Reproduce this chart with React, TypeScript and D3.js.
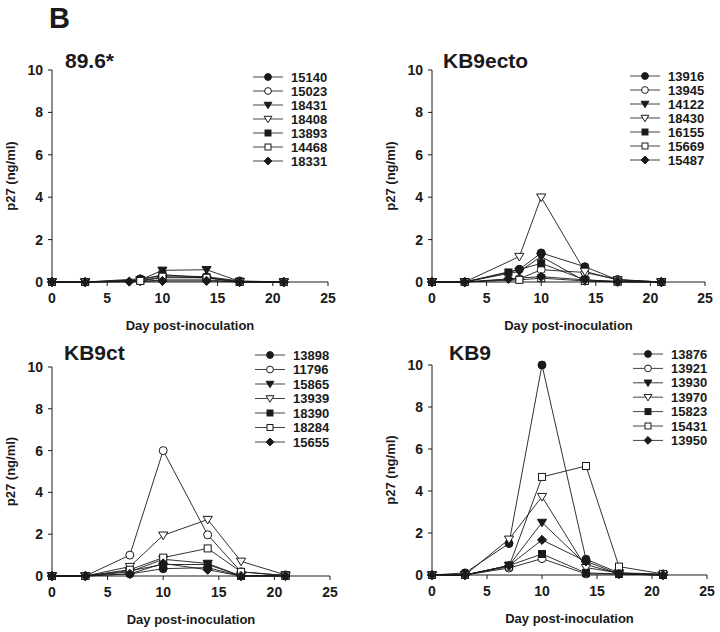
import React from 'react';
import * as d3 from 'd3';

// marker order shared by all panels
const markers = ['circleF', 'circleO', 'triF', 'triO', 'squareF', 'squareO', 'diamondF'];
const xTicks = [0, 5, 10, 15, 20, 25];
const yTicks = [0, 2, 4, 6, 8, 10];

// 89.6*
const p1Names = ['15140', '15023', '18431', '18408', '13893', '14468', '18331'];
const p1Days = [
  [0, 3, 8, 10, 14, 17, 21],
  [0, 3, 8, 10, 14, 17, 21],
  [0, 3, 8, 10, 14, 17, 21],
  [0, 3, 8, 10, 14, 17, 21],
  [0, 3, 8, 10, 14, 17, 21],
  [0, 3, 8, 10, 14, 17, 21],
  [0, 3, 7, 10, 14, 17, 21],
];
const p1Values = [
  [0, 0, 0.15, 0.3, 0.25, 0.05, 0],
  [0, 0, 0.05, 0.2, 0.2, 0.02, 0],
  [0, 0, 0.1, 0.55, 0.58, 0.03, 0],
  [0, 0, 0.02, 0.1, 0.1, 0, 0],
  [0, 0, 0.08, 0.35, 0.2, 0, 0],
  [0, 0, 0.05, 0.25, 0.2, 0, 0],
  [0, 0, 0.02, 0.05, 0.05, 0, 0],
];

// KB9ecto
const p2Names = ['13916', '13945', '14122', '18430', '16155', '15669', '15487'];
const p2Days = [
  [0, 3, 8, 10, 14, 17, 21],
  [0, 3, 8, 10, 14, 17, 21],
  [0, 3, 8, 10, 14, 17, 21],
  [0, 3, 8, 10, 14, 17, 21],
  [0, 3, 7, 10, 14, 17, 21],
  [0, 3, 8, 10, 14, 17, 21],
  [0, 3, 7, 10, 14, 17, 21],
];
const p2Values = [
  [0, 0, 0.6, 1.37, 0.72, 0.1, 0],
  [0, 0, 0.15, 0.58, 0.45, 0.12, 0],
  [0, 0, 0.5, 1.2, 0.05, 0, 0],
  [0, 0, 1.2, 4.0, 0.5, 0.1, 0],
  [0, 0, 0.45, 0.88, 0.1, 0.02, 0],
  [0, 0, 0.1, 0.18, 0.05, 0.02, 0],
  [0, 0, 0.15, 0.25, 0.1, 0.02, 0],
];

// KB9ct
const p3Names = ['13898', '11796', '15865', '13939', '18390', '18284', '15655'];
const p3Days = [
  [0, 3, 7, 10, 14, 17, 21],
  [0, 3, 7, 10, 14, 17, 21],
  [0, 3, 7, 10, 14, 17, 21],
  [0, 3, 7, 10, 14, 17, 21],
  [0, 3, 7, 10, 14, 17, 21],
  [0, 3, 7, 10, 14, 17, 21],
  [0, 3, 7, 10, 14, 17, 21],
];
const p3Values = [
  [0, 0, 0.1, 0.35, 0.4, 0, 0.05],
  [0, 0, 1.0, 6.0, 1.97, 0.2, 0.02],
  [0, 0, 0.2, 0.8, 0.6, 0, 0],
  [0, 0, 0.45, 1.95, 2.7, 0.7, 0.05],
  [0, 0, 0.25, 0.55, 0.55, 0, 0],
  [0, 0, 0.3, 0.88, 1.32, 0.2, 0.02],
  [0, 0, 0.1, 0.6, 0.3, 0, 0],
];

// KB9
const p4Names = ['13876', '13921', '13930', '13970', '15823', '15431', '13950'];
const p4Days = [
  [0, 3, 7, 10, 14, 17, 21],
  [0, 3, 7, 10, 14, 17, 21],
  [0, 3, 7, 10, 14, 17, 21],
  [0, 3, 7, 10, 14, 17, 21],
  [0, 3, 7, 10, 14, 17, 21],
  [0, 3, 7, 10, 14, 17, 21],
  [0, 3, 7, 10, 14, 17, 21],
];
const p4Values = [
  [0, 0.1, 1.5, 10.0, 0.75, 0.1, 0.05],
  [0, 0, 0.33, 0.78, 0.05, 0.05, 0],
  [0, 0, 0.45, 2.5, 0.5, 0.05, 0],
  [0, 0, 1.7, 3.73, 0.35, 0.1, 0],
  [0, 0, 0.45, 1.0, 0.1, 0.05, 0],
  [0, 0, 0.4, 4.67, 5.19, 0.4, 0.05],
  [0, 0, 0.45, 1.67, 0.65, 0.05, 0],
];

const panels = [
  { title: '89.6*', names: p1Names, days: p1Days, values: p1Values, x0: 52, x1: 328, yTop: 70, yBot: 282, titleX: 65, titleY: 68, legX: 253, legY: 77, legStep: 14 },
  { title: 'KB9ecto', names: p2Names, days: p2Days, values: p2Values, x0: 432, x1: 705, yTop: 70, yBot: 282, titleX: 443, titleY: 68, legX: 630, legY: 76, legStep: 14 },
  { title: 'KB9ct', names: p3Names, days: p3Days, values: p3Values, x0: 52, x1: 330, yTop: 367, yBot: 576, titleX: 64, titleY: 360, legX: 255, legY: 355, legStep: 14.5 },
  { title: 'KB9', names: p4Names, days: p4Days, values: p4Values, x0: 432, x1: 707, yTop: 365, yBot: 575, titleX: 449, titleY: 360, legX: 633, legY: 354, legStep: 14.4 },
];

const font = 'Liberation Sans, Arial, sans-serif';
const ink = '#1a1a1a';

const Marker = ({ type, x, y, k = 1 }: { type: string; x: number; y: number; k?: number }) => {
  const filled = type.endsWith('F');
  const fill = filled ? ink : '#fff';
  const common = { fill, stroke: ink, strokeWidth: 1 };
  if (type.startsWith('circle')) return <circle cx={x} cy={y} r={4 * k} {...common} />;
  if (type.startsWith('tri')) {
    const s = 4.6 * k;
    return <path d={`M${x - s},${y - s * 0.7}L${x + s},${y - s * 0.7}L${x},${y + s * 0.95}Z`} {...common} />;
  }
  if (type.startsWith('square')) {
    const h = 3.5 * k;
    return <rect x={x - h} y={y - h} width={2 * h} height={2 * h} {...common} />;
  }
  const d = 4.6 * k;
  return <path d={`M${x},${y - d}L${x + d},${y}L${x},${y + d}L${x - d},${y}Z`} {...common} />;
};

const Panel = ({ p }: { p: typeof panels[number] }) => {
  const x = d3.scaleLinear().domain([0, 25]).range([p.x0, p.x1]);
  const y = d3.scaleLinear().domain([0, 10]).range([p.yBot, p.yTop]);
  const line = d3.line<[number, number]>().x(d => x(d[0])).y(d => y(d[1]));
  const series = p.names.map((n, i) => p.days[i].map((dd, j) => [dd, p.values[i][j]] as [number, number]));
  const midX = (p.x0 + p.x1) / 2;
  return (
    <g fontFamily={font} fontWeight="bold" fill={ink}>
      {/* axes */}
      <line x1={p.x0} x2={p.x0} y1={p.yTop} y2={p.yBot} stroke={ink} />
      <line x1={p.x0} x2={p.x1} y1={p.yBot} y2={p.yBot} stroke={ink} />
      {yTicks.map(t => (
        <g key={'y' + t}>
          <line x1={p.x0 - 4} x2={p.x0} y1={y(t)} y2={y(t)} stroke={ink} />
          <text x={p.x0 - 9} y={y(t)} dy="0.35em" textAnchor="end" fontSize={14}>{t}</text>
        </g>
      ))}
      {xTicks.map(t => (
        <g key={'x' + t}>
          <line x1={x(t)} x2={x(t)} y1={p.yBot} y2={p.yBot + 4} stroke={ink} />
          <text x={x(t)} y={p.yBot + 16} dy="0.35em" textAnchor="middle" fontSize={14}>{t}</text>
        </g>
      ))}
      <text x={midX} y={p.yBot + 48} textAnchor="middle" fontSize={13}>Day post-inoculation</text>
      <text transform={`translate(${p.x0 - 37},${(p.yTop + p.yBot) / 2}) rotate(-90)`} textAnchor="middle" fontSize={13}>p27 (ng/ml)</text>
      <text x={p.titleX} y={p.titleY} fontSize={21}>{p.title}</text>
      {/* data */}
      {series.map((s, i) => (
        <path key={'l' + i} d={line(s) || ''} fill="none" stroke={ink} strokeWidth={0.9} />
      ))}
      {series.map((s, i) => s.map((d, j) => (
        <Marker key={`m${i}-${j}`} type={markers[i]} x={x(d[0])} y={y(d[1])} />
      )))}
      {/* legend */}
      {p.names.map((n, i) => {
        const ly = p.legY + i * p.legStep;
        return (
          <g key={'g' + n}>
            <line x1={p.legX} x2={p.legX + 30} y1={ly} y2={ly} stroke="#444" strokeWidth={1} />
            <Marker type={markers[i]} x={p.legX + 15} y={ly} k={0.85} />
            <text x={p.legX + 38} y={ly} dy="0.36em" fontSize={13}>{n}</text>
          </g>
        );
      })}
    </g>
  );
};

export default function App() {
  return (
    <svg width={720} height={632} style={{ position: 'absolute', left: 0, top: 0, background: '#fff' }}>
      <rect width={720} height={632} fill="#fff" />
      <text x={49} y={28} fontFamily={font} fontWeight="bold" fontSize={29} fill={ink}>B</text>
      {panels.map((p, i) => <Panel key={i} p={p} />)}
    </svg>
  );
}
